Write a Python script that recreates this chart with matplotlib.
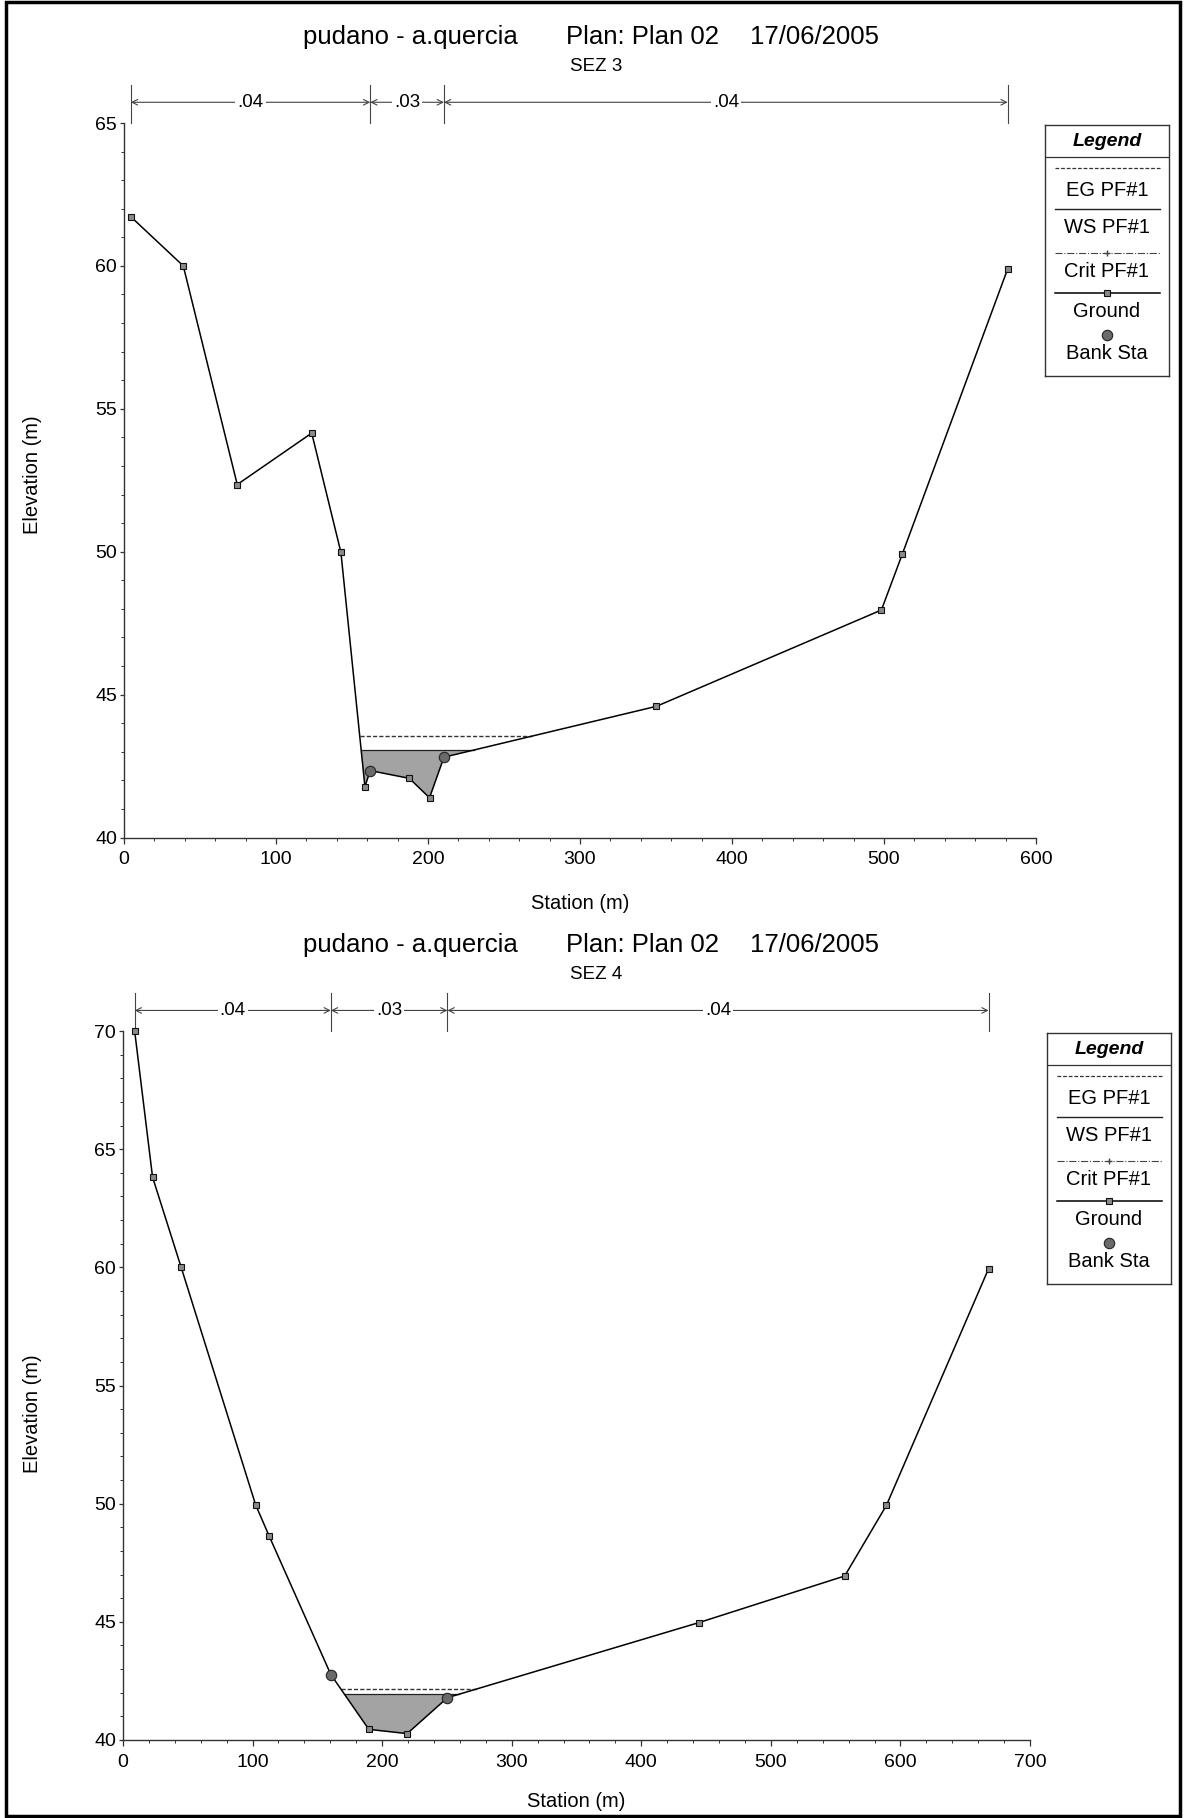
import numpy as np
import matplotlib
matplotlib.use('Agg')
import matplotlib.pyplot as plt
from matplotlib.transforms import blended_transform_factory
from matplotlib.ticker import MultipleLocator
from matplotlib.patches import Rectangle

plt.rcParams['font.family'] = ['Liberation Sans', 'DejaVu Sans']

river = 'pudano - a.quercia'
plan = 'Plan: Plan 02'
run_date = '17/06/2005'

# SEZ 3 cross section
sez3_sta = [4.5, 39.0, 74.5, 123.5, 142.7, 158.5, 162.0, 187.7, 201.0, 210.5, 350.3, 498.3, 512.0, 581.4]
sez3_elev = [61.72, 60.0, 52.35, 54.15, 49.98, 41.78, 42.34, 42.07, 41.39, 42.81, 44.59, 47.96, 49.91, 59.9]
sez3_bank = [162.0, 210.5]
sez3_ws = 43.06
sez3_eg = 43.55
sez3_n = ['.04', '.03', '.04']

# SEZ 4 cross section
sez4_sta = [9.0, 22.8, 44.9, 102.3, 112.8, 160.4, 189.7, 219.3, 250.4, 444.6, 557.0, 589.2, 668.1]
sez4_elev = [70.0, 63.82, 60.0, 49.96, 48.63, 42.77, 40.45, 40.27, 41.79, 44.97, 46.94, 49.93, 59.95]
sez4_bank = [160.4, 250.4]
sez4_ws = 41.93
sez4_eg = 42.17
sez4_n = ['.04', '.03', '.04']

legend_items = ['EG PF#1', 'WS PF#1', 'Crit PF#1', 'Ground', 'Bank Sta']


def level_extent(sta, elev, level):
    sta = np.asarray(sta)
    elev = np.asarray(elev)
    wet = np.where(elev < level)[0]
    i0, i1 = wet[0], wet[-1]
    xl = np.interp(level, [elev[i0], elev[i0 - 1]], [sta[i0], sta[i0 - 1]])
    xr = np.interp(level, [elev[i1], elev[i1 + 1]], [sta[i1], sta[i1 + 1]])
    return xl, xr, i0, i1


def draw_section(ax, sta, elev, bank, ws, eg, n_vals, xmax, ymin, ymax, ylab_y, xlab_y):
    sta = np.asarray(sta)
    elev = np.asarray(elev)

    # water body
    xl, xr, i0, i1 = level_extent(sta, elev, ws)
    px = [xl] + list(sta[i0:i1 + 1]) + [xr]
    py = [ws] + list(elev[i0:i1 + 1]) + [ws]
    ax.fill(px, py, color='#a3a3a3', lw=0, zorder=1)
    ax.plot([xl, xr], [ws, ws], color='#222222', lw=0.9, zorder=2)

    el, er, _, _ = level_extent(sta, elev, eg)
    ax.plot([el, er], [eg, eg], color='#333333', lw=1.0, ls=(0, (3, 1.5)), zorder=2)

    ax.plot(sta, elev, color='black', lw=1.1, marker='s', ms=4.5,
            mfc='#8a8a8a', mec='#111111', mew=0.8, zorder=3, clip_on=False)
    bank_elev = np.interp(bank, sta, elev)
    ax.plot(bank, bank_elev, ls='none', marker='o', ms=7.5,
            mfc='#6a6a6a', mec='#222222', mew=0.8, zorder=4, clip_on=False)

    ax.set_xlim(0, xmax)
    ax.set_ylim(ymin, ymax)
    ax.xaxis.set_major_locator(MultipleLocator(100))
    ax.xaxis.set_minor_locator(MultipleLocator(20))
    ax.yaxis.set_major_locator(MultipleLocator(5))
    ax.yaxis.set_minor_locator(MultipleLocator(1))
    for side in ['top', 'right']:
        ax.spines[side].set_visible(False)
    for side in ['left', 'bottom']:
        ax.spines[side].set_color('#333333')
        ax.spines[side].set_linewidth(1.0)
    ax.tick_params(axis='x', which='major', length=4, width=0.9, pad=6,
                   labelsize=14, color='#333333')
    ax.tick_params(axis='x', which='minor', length=2.5, width=0.7, color='#333333')
    ax.tick_params(axis='y', which='major', length=3, width=0.9, pad=2,
                   labelsize=14, color='#333333')
    ax.tick_params(axis='y', which='minor', length=2, width=0.7, color='#333333')

    ax.text(0.5, xlab_y, 'Station (m)', transform=ax.transAxes,
            ha='center', va='baseline', fontsize=14.5)
    ax.text(-0.1, ylab_y, 'Elevation (m)', transform=ax.transAxes,
            rotation=90, ha='center', va='center', fontsize=14.5)

    # Manning's n bands above the plot
    trans = blended_transform_factory(ax.transData, ax.transAxes)
    edges = [sta[0], bank[0], bank[1], sta[-1]]
    for s in edges:
        ax.plot([s, s], [1.0, 1.053], transform=trans, color='#444444',
                lw=0.8, clip_on=False)
    for k, label in enumerate(n_vals):
        a, b = edges[k], edges[k + 1]
        ax.annotate('', xy=(a, 1.029), xytext=(b, 1.029), xycoords=trans,
                    textcoords=trans,
                    arrowprops=dict(arrowstyle='<->', lw=0.8, color='#444444',
                                    shrinkA=0, shrinkB=0, mutation_scale=10))
        ax.text((a + b) / 2, 1.029, label, transform=trans, ha='center',
                va='center', fontsize=13.5,
                bbox=dict(facecolor='white', edgecolor='none', pad=1.5))


def draw_legend(fig, left, top_px):
    h = 251 / 1818
    w = 124 / 1184
    lax = fig.add_axes([left, 1 - top_px / 1818 - h, w, h])
    lax.set_xlim(0, 1)
    lax.set_ylim(1, 0)
    lax.set_xticks([])
    lax.set_yticks([])
    for sp in lax.spines.values():
        sp.set_color('#333333')
        sp.set_linewidth(1.0)
    lax.text(0.5, 0.066, 'Legend', ha='center', va='center', fontsize=14,
             fontweight='bold', fontstyle='italic')
    lax.plot([0, 1], [0.126, 0.126], color='#333333', lw=0.9)

    x0, x1 = 0.08, 0.93
    lax.plot([x0, x1], [0.172, 0.172], color='#333333', lw=0.9, ls=(0, (3, 1.5)))
    lax.plot([x0, x1], [0.336, 0.336], color='#222222', lw=1.0)
    lax.plot([x0, x1], [0.509, 0.509], color='#444444', lw=0.8, ls='-.')
    lax.plot([0.5], [0.509], marker='+', ms=5, color='#444444')
    lax.plot([x0, x1], [0.668, 0.668], color='black', lw=1.1)
    lax.plot([0.5], [0.668], marker='s', ms=4.5, mfc='#8a8a8a', mec='#111111', mew=0.8)
    lax.plot([0.5], [0.837], marker='o', ms=7.5, mfc='#6a6a6a', mec='#222222', mew=0.8)

    for label, y in zip(legend_items, [0.259, 0.409, 0.584, 0.744, 0.910]):
        lax.text(0.5, y, label, ha='center', va='center', fontsize=14.5)


def draw_titles(fig, base_y, sez_y, sez_label):
    for txt, xc in zip([river, plan, run_date], [410, 643, 815]):
        fig.text(xc / 1184, base_y, txt, ha='center', va='baseline', fontsize=18.5)
    fig.text(596 / 1184, sez_y, sez_label, ha='center', va='baseline', fontsize=13.5)


fig = plt.figure(figsize=(11.84, 18.18), dpi=100)

ax1 = fig.add_axes([124 / 1184, 1 - 837.5 / 1818, 912 / 1184, 714.5 / 1818])
draw_section(ax1, sez3_sta, sez3_elev, sez3_bank, sez3_ws, sez3_eg, sez3_n,
             600, 40, 65, 0.508, -0.0995)
draw_titles(fig, 1 - 44 / 1818, 1 - 71 / 1818, 'SEZ 3')
draw_legend(fig, 1045 / 1184, 125)

ax2 = fig.add_axes([123 / 1184, 1 - 1740 / 1818, 907 / 1184, 709 / 1818])
draw_section(ax2, sez4_sta, sez4_elev, sez4_bank, sez4_ws, sez4_eg, sez4_n,
             700, 40, 70, 0.46, -0.094)
draw_titles(fig, 1 - 951.7 / 1818, 1 - 979 / 1818, 'SEZ 4')
draw_legend(fig, 1047 / 1184, 1033)

# page frame
fig.patches.append(Rectangle((0.005, 0.0012), 0.992, 0.9975, transform=fig.transFigure,
                             fill=False, lw=2.5, color='black'))

fig.savefig('out.png', dpi=100)
